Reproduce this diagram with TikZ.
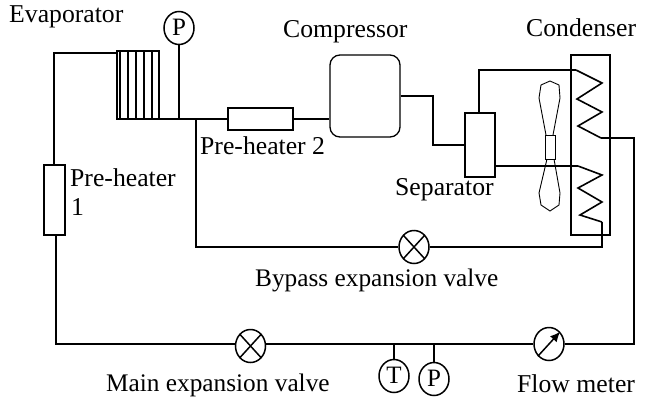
\documentclass[tikz,border=0pt]{standalone}
\usepackage{fontspec}
\setmainfont{Liberation Serif}
\usetikzlibrary{shapes.geometric,arrows.meta}
\tikzset{
  x=1pt,y=-1pt,
  pipe/.style={line width=1.3pt,line join=miter},
  coil/.style={line width=1.6pt,line join=miter},
  unit/.style={draw,line width=1.3pt,rectangle,inner sep=0pt,fill=white},
  gauge/.style={draw,line width=1.5pt,ellipse,inner sep=0pt,minimum width=30pt,minimum height=33pt,font=\fontsize{25}{25}\selectfont,fill=white},
  crossed/.style={path picture={\draw[line width=1.5pt] (path picture bounding box.north west) -- (path picture bounding box.south east) (path picture bounding box.north east) -- (path picture bounding box.south west);}},
  lbl/.style={font=\fontsize{25.7}{25.7}\selectfont,inner sep=0pt,anchor=base west},
  lblb/.style={lbl,font=\fontsize{25.3}{25.3}\selectfont},
  blade/.style={line width=.9pt},
}
\begin{document}
\begin{tikzpicture}
\useasboundingbox (0,0) rectangle (651,402);
% units
\node[unit,minimum width=42pt,minimum height=68pt] (evap) at (138,85) {};
\foreach \x in {120,128,136,144,152}{\draw[line width=1.2pt] (\x,51) -- (\x,119);}
\node[gauge] (pg1) at (179,28) {\raisebox{1.5pt}{P}};
\node[unit,minimum width=65pt,minimum height=22pt] (ph2) at (260.5,119) {};
\node[unit,minimum width=21pt,minimum height=70pt] (ph1) at (54.5,200) {};
\node[draw,line width=1.3pt,rounded corners=10pt,minimum width=70pt,minimum height=82pt,inner sep=0pt] (comp) at (365,96) {};
\node[unit,minimum width=30pt,minimum height=64pt] (sep) at (480,145) {};
\node[draw,line width=1.3pt,minimum width=39pt,minimum height=180pt,inner sep=0pt] (cond) at (590.5,145) {};
\node[gauge,crossed] (bv) at (414,247) {};
\node[gauge,crossed] (mv) at (250.5,346) {};
\node[gauge] (tg) at (394,376) {\raisebox{1.5pt}{T}};
\node[gauge] (pg2) at (434,379) {\raisebox{1.5pt}{P}};
\node[gauge] (fm) at (549,344) {};
\draw[line width=1.5pt,-{Latex[length=10pt,width=9pt]}] (fm.south west) -- (fm.north east);
% named pipe corners
\coordinate (cTL) at (54,53);
\coordinate (botL) at (56,344);
\coordinate (botR) at (634,344);
\coordinate (tout) at (634,138);
\coordinate (junc) at (196,119);
\coordinate (bypL) at (196,247);
\coordinate (bypR) at (602,247);
\coordinate (c1a) at (601,138);
\coordinate (c1b) at (576,70);
\coordinate (c2a) at (602,222);
\coordinate (c2b) at (578,166);
% pipes
\draw[pipe] (evap.west |- cTL) -- (cTL) -- (ph1.north -| cTL);
\draw[pipe] (ph1.south -| botL) -- (botL) -- (mv.west |- botL);
\draw[pipe] (mv.east |- botL) -- (fm.west);
\draw[pipe] (fm.east) -- (botR) -- (tout) -- (c1a);
\draw[coil] (c1a) -- (578,126) -- (602,112) -- (577,99) -- (602,83) -- (c1b);
\draw[pipe] (c1b) -- (479,70) -- (479,113);
\draw[pipe] (evap.east |- junc) -- (ph2.west);
\draw[pipe] (ph2.east) -- (comp.west |- ph2.east);
\draw[pipe] (junc) -- (bypL) -- (bv.west);
\draw[pipe] (bv.east) -- (bypR) -- (c2a);
\draw[coil] (c2a) -- (580,215) -- (602,202) -- (578,188) -- (602,175) -- (c2b);
\draw[pipe] (c2b) -- (sep.east |- c2b);
\draw[pipe] (comp.east |- 0,96) -- (433,96) -- (433,145) -- (sep.west);
\draw[pipe] (pg1) -- (179,119);
\draw[pipe] (tg) -- (394,344);
\draw[pipe] (pg2) -- (434,344);
% fan
\node[draw,blade,minimum width=10pt,minimum height=24pt,inner sep=0pt] (hub) at (550,147) {};
\draw[blade] (546,135) -- (539,98) -- (541,85) -- (550,81) -- (559,85) -- (560,98) -- (553,135);
\draw[blade] (547,159) -- (539,193) -- (541,205) -- (550,211) -- (559,205) -- (560,193) -- (554,159);
% labels
\node[lbl] (t1) at (9,22) {Evaporator};
\node[lbl] (t2) at (283,37) {Compressor};
\node[lbl] (t3) at (526,36) {Condenser};
\node[lbl] (t4) at (200,154) {Pre-heater 2};
\node[lbl] (t5) at (70,186) {Pre-heater};
\node[lbl] (t6) at (71,215) {1};
\node[lbl] (t7) at (395,195) {Separator};
\node[lblb] (t8) at (255,286) {Bypass expansion valve};
\node[lblb] (t9) at (106,391) {Main expansion valve};
\node[lbl] (t10) at (517,392) {Flow meter};
\end{tikzpicture}
\end{document}
